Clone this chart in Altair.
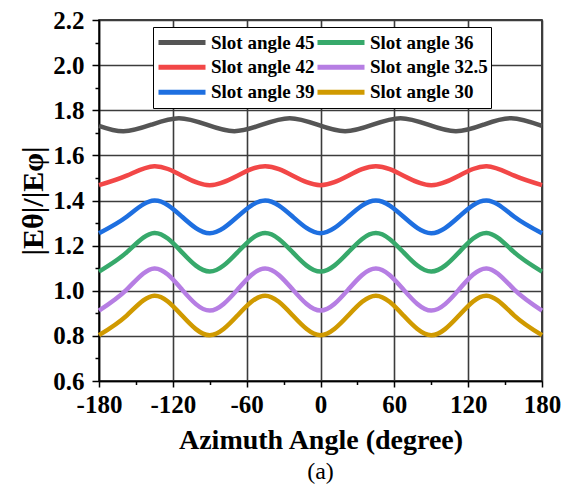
import altair as alt
import pandas as pd

# ---- data ----
series_names = ["Slot angle 45", "Slot angle 42", "Slot angle 39",
                "Slot angle 36", "Slot angle 32.5", "Slot angle 30"]
series_colors = ["#555555", "#f24747", "#1e6fe0", "#37a96b", "#b67ee3", "#d09a00"]

angles_45 = [-180, -160, -137.5, -115, -92.5, -70, -47.5, -25, -2.5, 20,
             42.5, 65, 87.5, 110, 132.5, 155, 180]
slot_45 = [1.731, 1.707, 1.736, 1.765, 1.736, 1.707, 1.736, 1.765, 1.736, 1.707,
           1.736, 1.765, 1.736, 1.707, 1.736, 1.765, 1.731]

angles = [-180, -157.5, -135, -112.5, -90, -67.5, -45, -22.5, 0,
          22.5, 45, 67.5, 90, 112.5, 135, 157.5, 180]
slot_42 = [1.468, 1.510, 1.552, 1.510, 1.468, 1.510, 1.552, 1.510, 1.468,
           1.510, 1.552, 1.510, 1.468, 1.510, 1.552, 1.510, 1.468]
slot_39 = [1.255, 1.328, 1.400, 1.328, 1.255, 1.328, 1.400, 1.328, 1.255,
           1.328, 1.400, 1.328, 1.255, 1.328, 1.400, 1.328, 1.255]
slot_36 = [1.085, 1.170, 1.256, 1.170, 1.085, 1.170, 1.256, 1.170, 1.085,
           1.170, 1.256, 1.170, 1.085, 1.170, 1.256, 1.170, 1.085]
slot_325 = [0.912, 1.005, 1.099, 1.005, 0.912, 1.005, 1.099, 1.005, 0.912,
            1.005, 1.099, 1.005, 0.912, 1.005, 1.099, 1.005, 0.912]
slot_30 = [0.803, 0.890, 0.978, 0.890, 0.803, 0.890, 0.978, 0.890, 0.803,
           0.890, 0.978, 0.890, 0.803, 0.890, 0.978, 0.890, 0.803]

x_ticks = [-180, -150, -120, -90, -60, -30, 0, 30, 60, 90, 120, 150, 180]
y_ticks = [0.6, 0.7, 0.8, 0.9, 1.0, 1.1, 1.2, 1.3, 1.4, 1.5, 1.6, 1.7,
           1.8, 1.9, 2.0, 2.1, 2.2]

rows = []
for a, v in zip(angles_45, slot_45):
    rows.append({"angle": a, "value": v, "series": "Slot angle 45"})
for name, vals in [("Slot angle 42", slot_42), ("Slot angle 39", slot_39),
                   ("Slot angle 36", slot_36), ("Slot angle 32.5", slot_325),
                   ("Slot angle 30", slot_30)]:
    for a, v in zip(angles, vals):
        rows.append({"angle": a, "value": v, "series": name})
df = pd.DataFrame(rows)

FONT = "Liberation Serif"

x_axis = alt.Axis(
    values=x_ticks,
    labelExpr="datum.value % 60 == 0 ? '' + datum.value : ''",
    tickSize={"condition": {"test": "datum.value % 60 == 0", "value": 6}, "value": 3.5},
    gridOpacity={"condition": {"test": "datum.value % 60 == 0", "value": 1}, "value": 0},
    grid=True, gridColor="#3c3c3c", gridWidth=1.6,
    domainColor="black", domainWidth=1.5, tickColor="black", tickWidth=1.5,
    labelFont=FONT, labelFontWeight="bold", labelFontSize=25, labelColor="black",
    labelPadding=5, labelFlush=False, labelOverlap=False,
    title="Azimuth Angle (degree)", titleFont=FONT, titleFontWeight="bold",
    titleFontSize=28, titleColor="black", titlePadding=9,
)
y_axis = alt.Axis(
    values=y_ticks,
    labelExpr="round(datum.value*10) % 2 == 0 ? format(datum.value, '.1f') : ''",
    tickSize={"condition": {"test": "round(datum.value*10) % 2 == 0", "value": 7}, "value": 4},
    gridOpacity={"condition": {"test": "round(datum.value*10) % 2 == 0", "value": 1}, "value": 0},
    grid=True, gridColor="#3c3c3c", gridWidth=1.6,
    domainColor="black", domainWidth=1.5, tickColor="black", tickWidth=1.5,
    labelFont=FONT, labelFontWeight="bold", labelFontSize=25, labelColor="black",
    labelPadding=8, labelFlush=False, labelOverlap=False,
    title="|Eθ|/|Eφ|", titleFont=FONT, titleFontWeight="bold",
    titleFontSize=30, titleColor="black", titlePadding=4,
)

legend = alt.Legend(
    title=None, orient="none", legendX=54, legendY=7, columns=2,
    symbolType="stroke", symbolSize=2209, symbolStrokeWidth=5,
    clipHeight=24.5, rowPadding=0, columnPadding=0, labelOffset=3,
    labelFont=FONT, labelFontWeight="bold", labelFontSize=19, labelColor="black",
    strokeColor="black", fillColor="white", padding=3, symbolOpacity=1,
    labelLimit=300,
)

chart = alt.Chart(df).mark_line(interpolate="natural", strokeWidth=4.5).encode(
    x=alt.X("angle:Q", scale=alt.Scale(domain=[-180, 180], nice=False), axis=x_axis),
    y=alt.Y("value:Q", scale=alt.Scale(domain=[0.6, 2.2], nice=False, zero=False), axis=y_axis),
    color=alt.Color("series:N", sort=series_names,
                    scale=alt.Scale(domain=series_names, range=series_colors),
                    legend=legend),
).properties(
    width=443, height=361,
    padding={"left": 99, "top": 20, "right": 31, "bottom": 107},
    autosize="none",
    title=alt.TitleParams("(a)", orient="bottom", font=FONT, fontWeight="normal",
                          fontSize=24, color="black", offset=6),
).configure_view(stroke="black", strokeWidth=1.5)

chart.save("out.html", embed_options={"renderer": "svg", "actions": False})
